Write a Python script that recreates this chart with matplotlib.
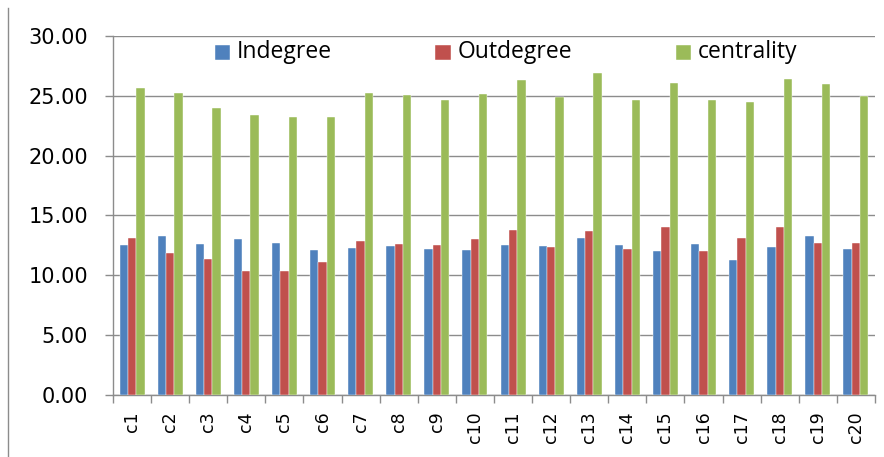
import numpy as np
import matplotlib.pyplot as plt
from matplotlib.lines import Line2D
from matplotlib.ticker import FormatStrFormatter, MultipleLocator

### data
categories = ['c%d' % i for i in range(1, 21)]
indegree = [12.50, 13.30, 12.58, 13.00, 12.72, 12.08, 12.31, 12.47, 12.17, 12.08,
            12.56, 12.47, 13.14, 12.50, 12.06, 12.61, 11.31, 12.36, 13.31, 12.17]
outdegree = [13.14, 11.86, 11.36, 10.39, 10.39, 11.14, 12.89, 12.58, 12.53, 13.03,
             13.75, 12.39, 13.69, 12.17, 14.00, 12.06, 13.14, 14.00, 12.69, 12.72]
centrality = [25.64, 25.20, 23.97, 23.44, 23.19, 23.25, 25.25, 25.08, 24.67, 25.14,
              26.33, 24.89, 26.89, 24.69, 26.08, 24.69, 24.50, 26.39, 26.03, 24.97]
series_names = ['Indegree', 'Outdegree', 'centrality']
colors = ['#4F81BD', '#C0504D', '#9BBB59']

### figure
fig = plt.figure(figsize=(8.84, 4.57), dpi=100)
ax = fig.add_axes([0.1278, 0.1357, 0.8620, 0.7855])

x = np.arange(len(categories))
w = 0.219
for k, (vals, name, col) in enumerate(zip([indegree, outdegree, centrality], series_names, colors)):
    ax.bar(x + (k - 1) * w, vals, w, color=col, label=name, zorder=3,
           edgecolor='white', linewidth=0.3)

# axes
ax.set_xlim(-0.5, len(categories) - 0.5)
ax.set_ylim(0, 30)
ax.yaxis.set_major_locator(MultipleLocator(5))
ax.yaxis.set_major_formatter(FormatStrFormatter('%.2f'))
ax.grid(axis='y', color='#8c8c8c', linewidth=1.0, zorder=0)

ax.set_xticks(x)
ax.set_xticklabels(categories, rotation=90, fontsize=12.5, family='DejaVu Sans')
ax.set_xticks(np.arange(-0.5, len(categories)), minor=True)
ax.tick_params(axis='x', which='major', length=0, pad=12)
ax.tick_params(axis='x', which='minor', length=6, color='#8c8c8c', width=1.0)
ax.tick_params(axis='y', length=6, color='#8c8c8c', width=1.0, pad=12, labelsize=15)

for s in ['top', 'right']:
    ax.spines[s].set_visible(False)
for s in ['left', 'bottom']:
    ax.spines[s].set_color('#8c8c8c')
    ax.spines[s].set_linewidth(1.0)

# legend
leg = ax.legend(loc='upper center', bbox_to_anchor=(0.516, 1.045), ncol=3, frameon=False,
                prop={'family': 'Open Sans', 'size': 16.5}, handlelength=0.68, handleheight=0.68,
                handletextpad=0.3, columnspacing=4.5)
for h in leg.legend_handles:
    h.set_height(15 * 72 / 100)
    h.set_y(-1)

# chart border line on the left
fig.add_artist(Line2D([8 / 884, 8 / 884], [0, 1 - 8 / 457], color='#8c8c8c', linewidth=1.0))

fig.savefig('out.png', dpi=100)
